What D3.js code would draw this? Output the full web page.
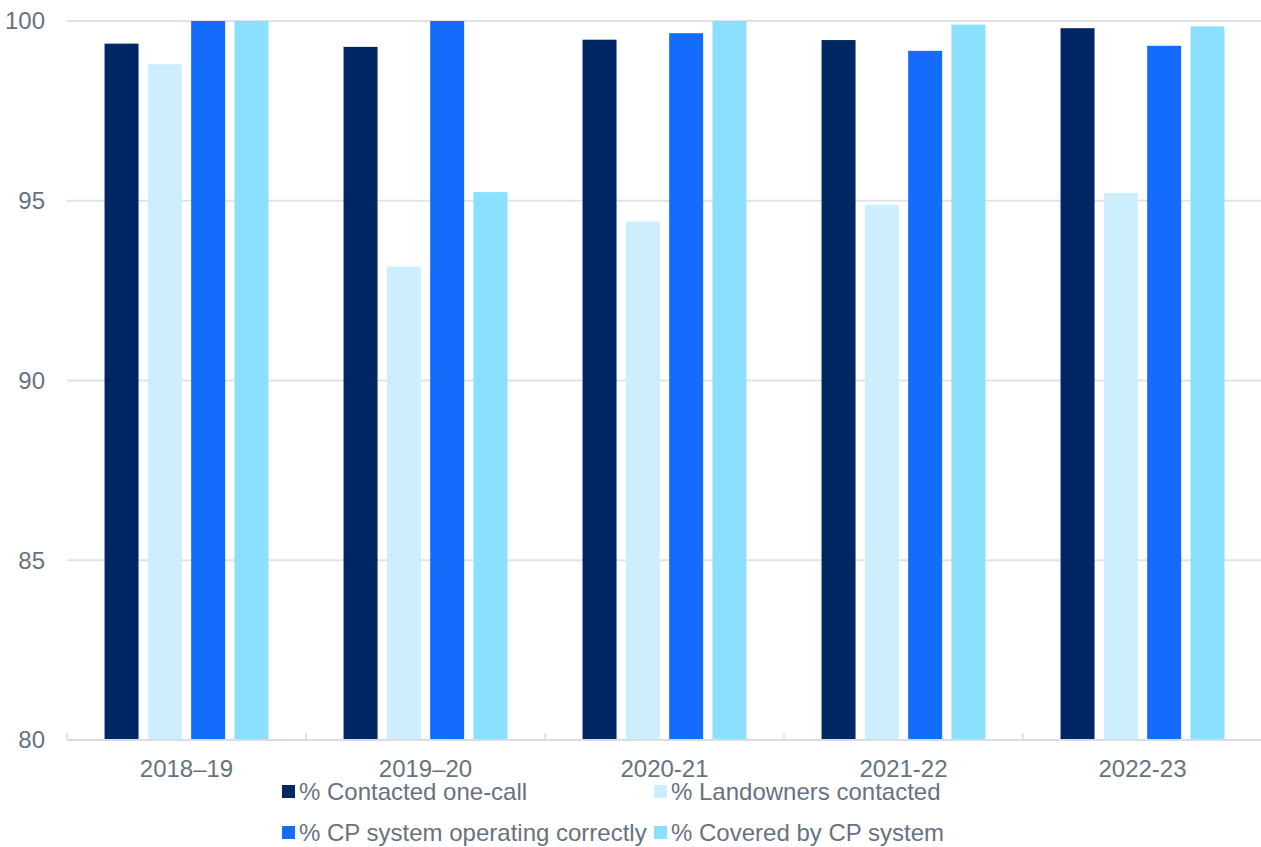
<!DOCTYPE html>
<html>
<head>
<meta charset="utf-8">
<script src="https://cdn.jsdelivr.net/npm/d3@7"></script>
<style>
	body { margin: 0; background: white; }
	svg { display: block; font-family: "Liberation Sans", Arial, sans-serif; }
	.tick-label { fill: #66737f; font-size: 24px; }
	.legend-label { fill: #66737f; font-size: 24px; }
</style>
</head>
<body>
<svg id="bar-plot" width="1261" height="847" viewBox="0 0 1261 847"></svg>
<script>

const years = ["2018\u201319", "2019\u201320", "2020-21", "2021-22", "2022-23"];

const series_names = ["% Contacted one-call", "% Landowners contacted", "% CP system operating correctly", "% Covered by CP system"];

const contacted_one_call = [99.37, 99.28, 99.48, 99.47, 99.8];
const landowners_contacted = [98.8, 93.17, 94.42, 94.89, 95.22];
const cp_operating = [100, 100, 99.66, 99.17, 99.31];
const cp_covered = [100, 95.24, 100, 99.9, 99.85];

const y_ticks = [80, 85, 90, 95, 100];

const series_colors = ["#002664", "#cdeefd", "#146cfd", "#8ce0ff"];

class BarPlot {

	constructor(svg_element_id) {
		this.svg = d3.select('#' + svg_element_id);

		const series_values = [contacted_one_call, landowners_contacted, cp_operating, cp_covered];

		// one row per year, one entry per series
		const data = years.map((year, i) => {
			return {
				'year': year,
				'values': series_names.map((name, k) => ({'name': name, 'value': series_values[k][i]}))
			}
		});

		const x = d3.scaleBand()
			.domain(years)
			.range([67, 1262])
			.padding(0);

		const x_inner = d3.scaleBand()
			.domain(series_names)
			.range([0, x.bandwidth()])
			.paddingInner(0.215)
			.paddingOuter(0.867);

		const y = d3.scaleLinear()
			.domain([80, 100])
			.range([740, 21]);

		const color = d3.scaleOrdinal()
			.domain(series_names)
			.range(series_colors);

		// grid lines
		this.svg.append("g")
			.selectAll("line")
			.data(y_ticks.filter(d => d > 80))
			.enter().append("line")
				.attr("x1", 67)
				.attr("x2", 1261)
				.attr("y1", d => y(d))
				.attr("y2", d => y(d))
				.style("stroke", "#dfe3e8")
				.style("stroke-width", 2);

		// y tick labels
		this.svg.append("g")
			.selectAll("text")
			.data(y_ticks)
			.enter().append("text")
				.attr("class", "tick-label")
				.attr("x", 45)
				.attr("y", d => y(d))
				.attr("dy", "0.35em")
				.attr("text-anchor", "end")
				.text(d => d);

		// bars
		const groups = this.svg.append("g")
			.selectAll("g")
			.data(data)
			.enter().append("g")
				.attr("transform", d => "translate(" + x(d.year) + ",0)");

		groups.selectAll("rect")
			.data(d => d.values)
			.enter().append("rect")
				.attr("x", d => x_inner(d.name))
				.attr("width", x_inner.bandwidth())
				.attr("y", d => y(d.value))
				.attr("height", d => y(80) - y(d.value))
				.style("fill", d => color(d.name));

		// x axis
		const x_axis = this.svg.append("g");

		x_axis.append("line")
			.attr("x1", 67)
			.attr("x2", 1261)
			.attr("y1", 740)
			.attr("y2", 740)
			.style("stroke", "#d9dde3")
			.style("stroke-width", 2);

		x_axis.selectAll(".xtick")
			.data(years)
			.enter().append("line")
				.attr("class", "xtick")
				.attr("x1", d => x(d))
				.attr("x2", d => x(d))
				.attr("y1", 733)
				.attr("y2", 740)
				.style("stroke", "#d9dde3")
				.style("stroke-width", 1.5);

		x_axis.selectAll("text")
			.data(years)
			.enter().append("text")
				.attr("class", "tick-label")
				.attr("x", d => x(d) + x.bandwidth() / 2)
				.attr("y", 777)
				.attr("text-anchor", "middle")
				.text(d => d);

		// legend, two columns
		const legend = this.svg.append("g")
			.selectAll("g")
			.data(series_names)
			.enter().append("g")
				.attr("transform", (d, i) => "translate(" + (i % 2 === 0 ? 282 : 654) + "," + (i < 2 ? 800 : 841) + ")");

		legend.append("rect")
			.attr("x", 0)
			.attr("y", -15)
			.attr("width", 13)
			.attr("height", 13)
			.style("fill", d => color(d));

		legend.append("text")
			.attr("class", "legend-label")
			.attr("x", 17)
			.attr("y", 0)
			.text(d => d);
	}
}

function whenDocumentLoaded(action) {
	if (document.readyState === "loading") {
		document.addEventListener("DOMContentLoaded", action);
	} else {
		action();
	}
}

whenDocumentLoaded(() => {
	plot_object = new BarPlot('bar-plot');
});
</script>
</body>
</html>
